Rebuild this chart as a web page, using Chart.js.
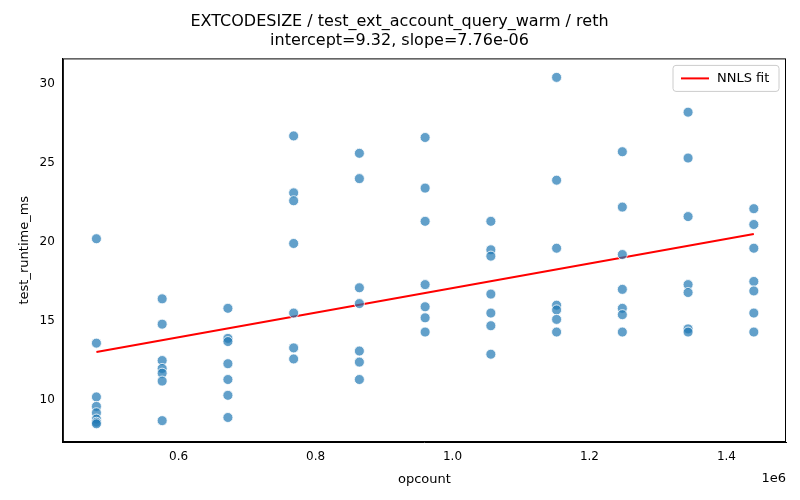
<!DOCTYPE html>
<html>
<head>
<meta charset="utf-8">
<script src="https://cdn.jsdelivr.net/npm/chart.js@4"></script>
<style>
  body { margin: 0; background: #fff; }
  #wrap { width: 800px; height: 500px; }
</style>
</head>
<body>
<div id="wrap"><canvas id="chart"></canvas></div>
<script>
var opcounts = [480000, 576000, 672000, 768000, 864000, 960000, 1056000, 1152000, 1248000, 1344000, 1440000];
var runtimes = [
    [20.2, 13.6, 10.2, 9.6, 9.2, 8.8, 8.6, 8.5],
    [16.4, 14.8, 12.5, 12.0, 11.7, 11.2, 8.7],
    [15.8, 13.9, 13.7, 12.3, 11.3, 10.3, 8.9],
    [26.7, 23.1, 22.6, 19.9, 15.5, 13.3, 12.6],
    [25.6, 24.0, 17.1, 16.1, 13.1, 12.4, 11.3],
    [26.6, 23.4, 21.3, 17.3, 15.9, 15.2, 14.3],
    [21.3, 19.5, 19.1, 16.7, 15.5, 14.7, 12.9],
    [30.4, 23.9, 19.6, 16.0, 15.7, 15.1, 14.3],
    [25.7, 22.2, 19.2, 17.0, 15.8, 15.4, 14.3],
    [28.2, 25.3, 21.6, 17.3, 16.8, 14.5, 14.3],
    [22.1, 21.1, 19.6, 17.5, 16.9, 15.5, 14.3]
];
var intercept = 9.32;
var slope = 7.76e-6;

var points = [];
opcounts.forEach(function (x, i) {
    runtimes[i].forEach(function (y) { points.push({x: x, y: y}); });
});
var xMin = opcounts[0], xMax = opcounts[opcounts.length - 1];
var fit = [{x: xMin, y: intercept + slope * xMin}, {x: xMax, y: intercept + slope * xMax}];

// frame, legend box and the 1e6 offset label, matplotlib style
var extras = {
    id: 'extras',
    afterDraw: function (chart) {
        var ctx = chart.ctx, a = chart.chartArea;
        ctx.save();
        ctx.strokeStyle = '#000';
        ctx.lineWidth = 1;
        ctx.strokeRect(a.left + 0.5, a.top + 0.5, a.right - a.left - 1, a.bottom - a.top - 1);

        ctx.font = '13px "DejaVu Sans"';
        ctx.fillStyle = '#000';
        ctx.textAlign = 'right';
        ctx.textBaseline = 'alphabetic';
        ctx.fillText('1e6', a.right, a.bottom + 40);

        var bx = a.right - 113, by = a.top + 7, bw = 106, bh = 26;
        ctx.fillStyle = 'rgba(255,255,255,0.8)';
        ctx.strokeStyle = '#ccc';
        ctx.beginPath();
        ctx.roundRect(bx, by, bw, bh, 3);
        ctx.fill();
        ctx.stroke();
        ctx.strokeStyle = '#ff0000';
        ctx.lineWidth = 2;
        ctx.beginPath();
        ctx.moveTo(bx + 8, by + bh / 2);
        ctx.lineTo(bx + 36, by + bh / 2);
        ctx.stroke();
        ctx.fillStyle = '#000';
        ctx.textAlign = 'left';
        ctx.textBaseline = 'middle';
        ctx.fillText('NNLS fit', bx + 44, by + bh / 2);
        ctx.restore();
    }
};

new Chart(document.getElementById('chart'), {
    type: 'scatter',
    data: {
        datasets: [{
            label: 'data',
            data: points,
            backgroundColor: 'rgba(31,119,180,0.7)',
            borderColor: 'rgba(255,255,255,0.8)',
            borderWidth: 1,
            pointRadius: 5
        }, {
            label: 'NNLS fit',
            type: 'line',
            data: fit,
            borderColor: '#ff0000',
            backgroundColor: '#ff0000',
            borderWidth: 2,
            pointRadius: 0
        }]
    },
    plugins: [extras],
    options: {
        responsive: true,
        maintainAspectRatio: false,
        animation: false,
        layout: {padding: {left: 13, right: 14, top: 4, bottom: 9}},
        plugins: {
            legend: {display: false},
            title: {
                display: true,
                text: ['EXTCODESIZE / test_ext_account_query_warm / reth', 'intercept=9.32, slope=7.76e-06'],
                color: '#000',
                font: {family: 'DejaVu Sans', size: 16, weight: 'normal'},
                padding: {top: 8, bottom: 8}
            }
        },
        scales: {
            x: {
                type: 'linear',
                min: 431000, max: 1487000,
                title: {display: true, text: 'opcount', color: '#000', font: {family: 'DejaVu Sans', size: 13}},
                grid: {display: false, drawTicks: true, tickLength: 5, tickColor: '#000'},
                border: {color: '#000'},
                ticks: {
                    color: '#000', font: {family: 'DejaVu Sans', size: 12},
                    callback: function (v) { return (v / 1e6).toFixed(1); }
                },
                afterBuildTicks: function (s) {
                    s.ticks = [600000, 800000, 1000000, 1200000, 1400000].map(function (v) { return {value: v}; });
                }
            },
            y: {
                min: 7.35, max: 31.6,
                title: {display: true, text: 'test_runtime_ms', color: '#000', font: {family: 'DejaVu Sans', size: 13}},
                grid: {display: false, drawTicks: true, tickLength: 5, tickColor: '#000'},
                border: {color: '#000'},
                ticks: {color: '#000', font: {family: 'DejaVu Sans', size: 12}},
                afterBuildTicks: function (s) {
                    s.ticks = [10, 15, 20, 25, 30].map(function (v) { return {value: v}; });
                }
            }
        }
    }
});
</script>
</body>
</html>
